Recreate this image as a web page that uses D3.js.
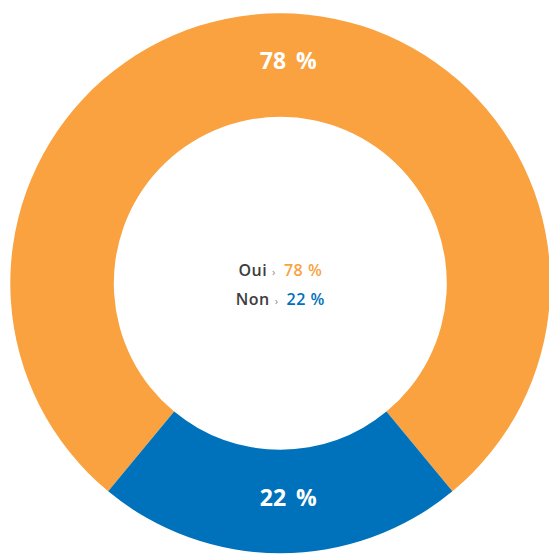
<!DOCTYPE html>
<html lang="fr">
<meta charset="utf-8">
<head>
    <title>Oui / Non</title>
    <script src="https://d3js.org/d3.v7.min.js"></script>
    <style>
        body { margin: 0; background: #fff; }
        svg { display: block; }
    </style>
</head>
<body>
<div id="donut"></div>
<script>
    // data
    const labels = ["Oui", "Non"];
    const values = [78, 22];
    const colors = ["#F9A23F", "#0071BB"];

    const width = 549, height = 554;
    const cx = 280.3, cy = 283.3;
    const outerR = 270, innerR = 166.5;

    const data = labels.map((l, i) => ({label: l, value: values[i], color: colors[i]}));

    // start so that "Non" sits centered at the bottom
    const start = -Math.PI * values[0] / 100;
    const pie = d3.pie().sort(null).value(d => d.value)
        .startAngle(start).endAngle(start + 2 * Math.PI);

    const arc = d3.arc().innerRadius(innerR).outerRadius(outerR);

    const svg = d3.select("#donut").append("svg")
        .attr("width", width)
        .attr("height", height);

    const g = svg.append("g")
        .attr("transform", "translate(" + cx + "," + cy + ")");

    const slices = g.selectAll(".slice")
        .data(pie(data))
        .enter().append("g")
        .attr("class", "slice");

    slices.append("path")
        .attr("d", arc)
        .style("fill", d => d.data.color);

    slices.append("text")
        .attr("transform", d => "translate(" + arc.centroid(d) + ")")
        .attr("dx", 8)
        .attr("dy", 4)
        .attr("text-anchor", "middle")
        .style("font-family", "'Open Sans', sans-serif")
        .style("font-weight", 700)
        .style("font-size", "23px")
        .style("word-spacing", "4px")
        .style("fill", "#fff")
        .text(d => d.data.value + " %");

    // legend in the middle
    const legend = g.selectAll(".legend")
        .data(data)
        .enter().append("text")
        .attr("class", "legend")
        .attr("y", (d, i) => -7.6 + i * 29.3)
        .attr("text-anchor", "middle")
        .style("font-family", "'Open Sans', sans-serif")
        .style("font-size", "16px")
        .style("letter-spacing", "0.5px");

    legend.append("tspan")
        .style("fill", "#3d3d3d")
        .style("font-weight", 600)
        .text(d => d.label);
    legend.append("tspan")
        .attr("dx", 5)
        .style("fill", "#8a8a8a")
        .style("font-size", "11px")
        .text("›");
    legend.append("tspan")
        .attr("dx", 8)
        .style("fill", d => d.color)
        .style("font-weight", 600)
        .text(d => d.value + " %");
</script>
</body>
</html>
